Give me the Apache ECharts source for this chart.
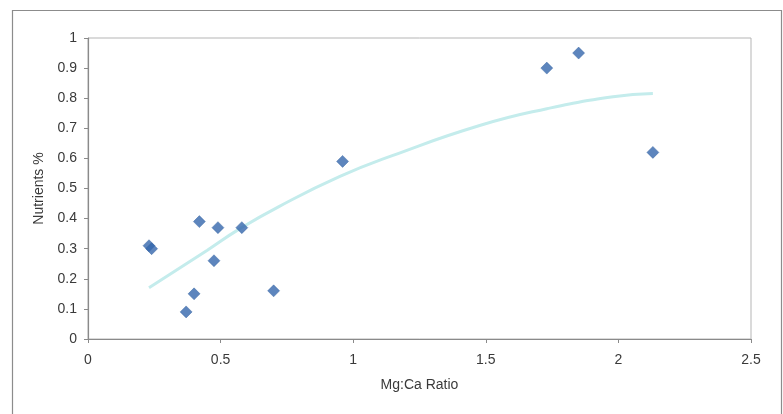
<!DOCTYPE html>
<html>
<head>
<meta charset="utf-8">
<script src="https://cdn.jsdelivr.net/npm/echarts@6/dist/echarts.min.js"></script>
<style>html,body{margin:0;padding:0;background:#fff}#c{width:783px;height:414px}</style>
</head>
<body>
<div id="c"></div>
<script>
// Observed data points: [Mg:Ca ratio, Nutrients %]
const ratioX = [0.23, 0.24, 0.37, 0.40, 0.42, 0.475, 0.49, 0.58, 0.70, 0.96, 1.73, 1.85, 2.13];
const nutrientY = [0.31, 0.30, 0.09, 0.15, 0.39, 0.26, 0.37, 0.37, 0.16, 0.59, 0.90, 0.95, 0.62];
// Trendline
const trendX = [0.23, 0.45, 0.57, 0.72, 0.95, 1.15, 1.48, 1.73, 1.98, 2.13];
const trendY = [0.17, 0.295, 0.365, 0.44, 0.54, 0.61, 0.71, 0.765, 0.805, 0.816];
const xTicks = [0, 0.5, 1, 1.5, 2, 2.5];
const yTicks = [0, 0.1, 0.2, 0.3, 0.4, 0.5, 0.6, 0.7, 0.8, 0.9, 1];

const chart = echarts.init(document.getElementById('c'), null, {renderer: 'canvas'});
const font = 'Liberation Sans, Arial, sans-serif';
const axisCol = '#8a8a8a';
const txtCol = '#3a3a3a';
chart.setOption({
  animation: false,
  backgroundColor: '#fff',
  graphic: [{
    type: 'rect', left: 10, top: 8, z: -1,
    shape: {width: 769, height: 420},
    style: {fill: 'none', stroke: '#8c8c8c', lineWidth: 1.2}
  }],
  grid: {left: 88, top: 38, right: 32, bottom: 75, show: true, borderColor: '#b5b5b5', borderWidth: 1, backgroundColor: 'transparent'},
  xAxis: {
    type: 'value', min: 0, max: 2.5, interval: 0.5,
    name: 'Mg:Ca Ratio', nameLocation: 'middle', nameGap: 39,
    nameTextStyle: {fontFamily: font, fontSize: 14, color: txtCol},
    axisLine: {show: true, onZero: false, lineStyle: {color: axisCol, width: 1.2}},
    axisTick: {show: true, length: 4, lineStyle: {color: axisCol}},
    axisLabel: {fontFamily: font, fontSize: 14, color: txtCol, margin: 14,
      formatter: v => xTicks.includes(v) ? String(v) : ''},
    splitLine: {show: false}
  },
  yAxis: {
    type: 'value', min: 0, max: 1, interval: 0.1,
    name: 'Nutrients %', nameLocation: 'middle', nameGap: 39, nameRotate: 90,
    nameTextStyle: {fontFamily: font, fontSize: 14, color: txtCol},
    axisLine: {show: true, onZero: false, lineStyle: {color: axisCol, width: 1.2}},
    axisTick: {show: true, length: 4, lineStyle: {color: axisCol}},
    axisLabel: {fontFamily: font, fontSize: 14, color: txtCol, margin: 11,
      formatter: v => { const t = yTicks.find(k => Math.abs(k - v) < 1e-9); return t === undefined ? '' : String(t); }},
    splitLine: {show: false}
  },
  series: [
    {
      type: 'line', smooth: true, showSymbol: false, z: 2,
      data: trendX.map((x, i) => [x, trendY[i]]),
      lineStyle: {color: '#c4ecec', width: 3}
    },
    {
      type: 'scatter', symbol: 'diamond', symbolSize: 12, z: 3,
      data: ratioX.map((x, i) => [x, nutrientY[i]]),
      itemStyle: {color: '#3566ad', borderColor: '#2f5e9e', borderWidth: 0.5}
    }
  ]
});
</script>
</body>
</html>
